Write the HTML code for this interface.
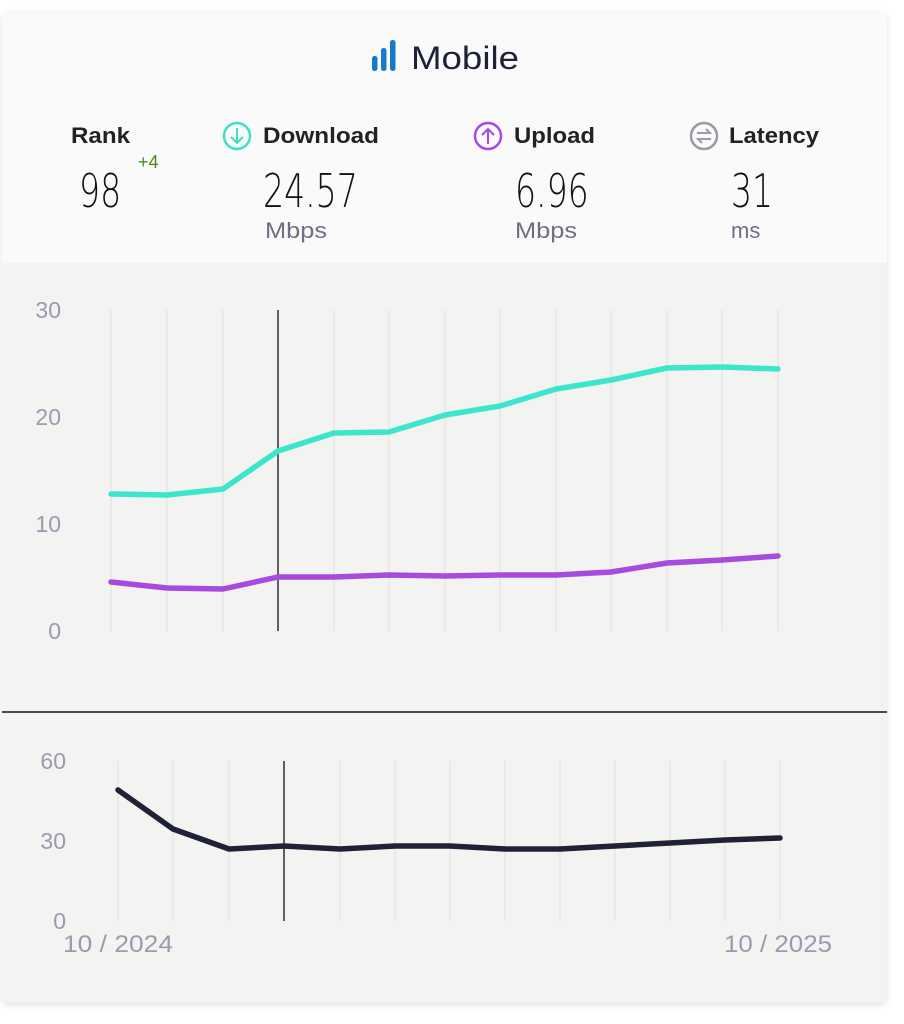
<!DOCTYPE html>
<html><head><style>
body{margin:0;background:#fff;width:904px;height:1024px;position:relative;font-family:"Liberation Sans",sans-serif;overflow:hidden}
.card{position:absolute;left:2px;top:12px;width:885px;height:991px;border-radius:8px;background:#f3f3f2;box-shadow:0 2px 8px rgba(0,0,0,0.12);overflow:hidden}
.hdr{position:absolute;left:0;top:0;width:885px;height:251px;background:#fafafa}
</style></head><body>
<div class="card"><div class="hdr"></div></div>
<svg width="904" height="1024" style="position:absolute;left:0;top:0" font-family="Liberation Sans, sans-serif">
<g fill="#1779c9"><rect x="372" y="56" width="5.5" height="15" rx="2.5"/><rect x="381" y="48" width="5.5" height="23" rx="2.5"/><rect x="390" y="40" width="5.5" height="31" rx="2.5"/></g>
<text x="411" y="69" font-size="32" fill="#1f2237" textLength="108" lengthAdjust="spacingAndGlyphs">Mobile</text>
<circle cx="237" cy="136" r="13" fill="none" stroke="#3fe0c8" stroke-width="2.5"/><path d="M237 128v15M231 137l6 6 6-6" fill="none" stroke="#3fe0c8" stroke-width="2"/>
<circle cx="488" cy="136" r="13" fill="none" stroke="#a64ae0" stroke-width="2.5"/><path d="M488 144v-15M482 135l6-6 6 6" fill="none" stroke="#a64ae0" stroke-width="2"/>
<circle cx="704" cy="136" r="13" fill="none" stroke="#9a9aaa" stroke-width="2.5"/><path d="M697 133h13l-4-4M711 139h-13l4 4" fill="none" stroke="#9a9aaa" stroke-width="2"/>
<g font-size="22" font-weight="bold" fill="#222" lengthAdjust="spacingAndGlyphs">
<text x="71" y="143" textLength="59" lengthAdjust="spacingAndGlyphs">Rank</text>
<text x="263" y="143" textLength="116" lengthAdjust="spacingAndGlyphs">Download</text>
<text x="514" y="143" textLength="81" lengthAdjust="spacingAndGlyphs">Upload</text>
<text x="729" y="143" textLength="90" lengthAdjust="spacingAndGlyphs">Latency</text>
</g>
<text x="138" y="168" font-size="18" fill="#4a8a1c">+4</text>
<g font-size="46" fill="#111" font-family="DejaVu Sans, sans-serif" font-weight="300">
<text x="79" y="207" transform="translate(79 0) scale(0.72 1) translate(-79 0)">98</text>
<text x="263" y="207" transform="translate(263 0) scale(0.72 1) translate(-263 0)">24.57</text>
<text x="515" y="207" transform="translate(515 0) scale(0.72 1) translate(-515 0)">6.96</text>
<text x="731" y="207" transform="translate(731 0) scale(0.72 1) translate(-731 0)">31</text>
</g>
<g font-size="22" fill="#6e6e85"><text x="265" y="238" textLength="62" lengthAdjust="spacingAndGlyphs">Mbps</text><text x="515" y="238" textLength="62" lengthAdjust="spacingAndGlyphs">Mbps</text><text x="731" y="238">ms</text></g>
<g stroke="#e3e3e3" stroke-width="1.2">
<path d="M111 310V631M167 310V631M223 310V631M334 310V631M389 310V631M445 310V631M500 310V631M556 310V631M611 310V631M667 310V631M722 310V631M778 310V631"/>
<path d="M118 761V921M173 761V921M229 761V921M340 761V921M395 761V921M450 761V921M505 761V921M560 761V921M615 761V921M670 761V921M725 761V921M780 761V921"/>
</g>
<path d="M278 310V631M284 761V921" stroke="#111" stroke-width="1.3"/>
<path d="M2 712H887" stroke="#111" stroke-width="1.6"/>
<g font-size="23" fill="#9a9ab0" text-anchor="end">
<text x="61" y="318">30</text><text x="61" y="425">20</text><text x="61" y="532">10</text><text x="61" y="639">0</text>
<text x="66" y="769">60</text><text x="66" y="849">30</text><text x="66" y="929">0</text>
</g>
<g font-size="24" fill="#9a9ab0"><text x="63" y="952" textLength="110" lengthAdjust="spacingAndGlyphs">10 / 2024</text><text x="724" y="952" textLength="108" lengthAdjust="spacingAndGlyphs">10 / 2025</text></g>
<g fill="none" stroke-width="5.5" stroke-linejoin="round" stroke-linecap="round">
<polyline stroke="#3ce6cc" points="111,494 167,495 223,489 278,451 334,433 389,432 445,415 500,406 556,389 611,380 667,368 722,367 778,369"/>
<polyline stroke="#a64ae0" points="111,582 167,588 223,589 278,577 334,577 389,575 445,576 500,575 556,575 611,572 667,563 722,560 778,556"/>
<polyline stroke="#1f2237" points="118,790 173,829 229,849 284,846 340,849 395,846 450,846 505,849 560,849 615,846 670,843 725,840 780,838"/>
</g>
</svg>
</body></html>
